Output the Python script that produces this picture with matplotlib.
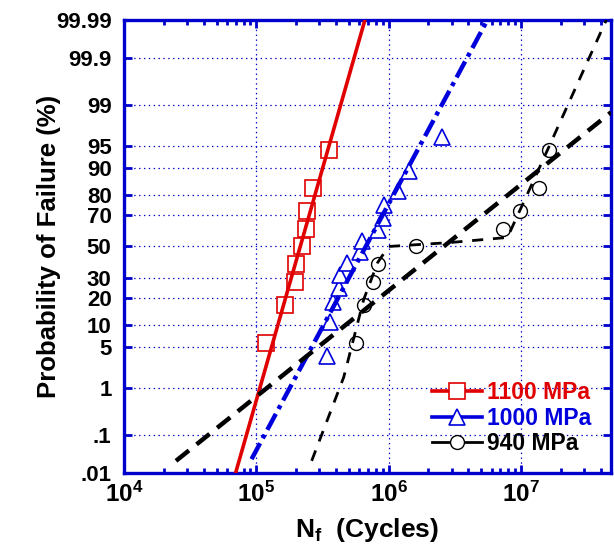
from statistics import NormalDist
import numpy as np
import matplotlib
matplotlib.use("Agg")
import matplotlib.pyplot as plt
from matplotlib.lines import Line2D
from matplotlib.ticker import FixedLocator, NullLocator, LogLocator

plt.rcParams['font.family'] = ['Liberation Sans', 'DejaVu Sans']
plt.rcParams['font.weight'] = 'bold'
plt.rcParams['mathtext.fontset'] = 'custom'
plt.rcParams['mathtext.rm'] = 'Liberation Sans:bold'
plt.rcParams['mathtext.it'] = 'Liberation Sans:bold'
plt.rcParams['mathtext.bf'] = 'Liberation Sans:bold'
plt.rcParams['mathtext.default'] = 'rm'
plt.rcParams['lines.scale_dashes'] = False

# --- data (cycles, failure probability in %) ---
p_1100 = [5.6, 16.7, 27.8, 38.9, 50.0, 61.1, 72.2, 83.3, 94.4]
n_1100 = [1.186e5, 1.661e5, 1.963e5, 2.011e5, 2.232e5, 2.376e5, 2.405e5, 2.684e5, 3.543e5]

p_1000 = [3.6, 10.7, 17.9, 25.0, 32.1, 39.3, 46.4, 53.6, 60.7, 67.9, 75.0, 82.1, 89.3, 96.4]
n_1000 = [3.405e5, 3.605e5, 3.80e5, 4.216e5, 4.29e5, 4.88e5, 6.07e5, 6.33e5,
          8.30e5, 9.12e5, 9.17e5, 1.184e6, 1.423e6, 2.543e6]

p_940 = [5.6, 16.7, 27.8, 38.9, 50.0, 61.1, 72.2, 83.3, 94.4]
n_940 = [5.636e5, 6.51e5, 7.66e5, 8.36e5, 1.599e6, 7.29e6, 9.91e6, 1.363e7, 1.621e7]

# fitted lines
fit_1100_n = [6.97e4, 6.62e5]
fit_1100_p = [0.01, 99.99]
fit_1000_n = [9.2e4, 5.58e6]
fit_1000_p = [0.024, 99.99]
fit_940_n = [2.47e4, 4.8e7]
fit_940_p = [0.0216, 98.62]
bimodal_940_n = [2.62e5, 4.58e5, 6.48e5, 8.26e5, 1.0e6, 2.94e6, 7.91e6, 1.33e7, 4.42e7]
bimodal_940_p = [0.0216, 1.6, 19.2, 39.6, 50.0, 52.6, 55.9, 88.8, 99.99]

prob_ticks = [0.01, 0.1, 1, 5, 10, 20, 30, 50, 70, 80, 90, 95, 99, 99.9, 99.99]
prob_labels = ['.01', '.1', '1', '5', '10', '20', '30', '50', '70', '80', '90',
               '95', '99', '99.9', '99.99']
decades = [1e4, 1e5, 1e6, 1e7]
decade_labels = [r'$10^{4}$', r'$10^{5}$', r'$10^{6}$', r'$10^{7}$']

_nd = NormalDist()


def _safe_inv(p):
    if not np.isfinite(p):
        return np.nan
    return _nd.inv_cdf(min(max(p, 1e-12), 1 - 1e-12))


def prob_forward(p):
    p = np.asarray(p, dtype=float) / 100.0
    return np.vectorize(_safe_inv, otypes=[float])(p)


def prob_inverse(z):
    z = np.asarray(z, dtype=float)
    return np.vectorize(lambda v: _nd.cdf(v) if np.isfinite(v) else np.nan,
                        otypes=[float])(z) * 100.0


RED = '#e00000'
BLUE = '#0000dd'
AXBLUE = '#0000cc'

fig = plt.figure(figsize=(6.14, 5.46), dpi=100)
ax = fig.add_axes([0.2020, 0.1337, 0.7932, 0.8297])
ax.set_xscale('log')
ax.set_yscale('function', functions=(prob_forward, prob_inverse))
ax.set_xlim(1e4, 4.8e7)
ax.set_ylim(0.01, 99.99)

# markers first, lines over them
ax.plot(n_1100, p_1100, ls='none', marker='s', ms=11.5, mfc='white',
        mec=RED, mew=1.2, zorder=3)
ax.plot(n_1000, p_1000, ls='none', marker='^', ms=11, mfc='white',
        mec=BLUE, mew=1.2, zorder=3)
ax.plot(n_940, p_940, ls='none', marker='o', ms=10, mfc='white',
        mec='black', mew=1.0, zorder=3)

ax.plot(fit_1100_n, fit_1100_p, color=RED, lw=2.6, zorder=4)
ax.plot(fit_1000_n, fit_1000_p, color=BLUE, lw=3.2, ls=(0, (13, 4, 3, 4)), zorder=4)
ax.plot(fit_940_n, fit_940_p, color='black', lw=3.2, ls=(0, (12, 7)), zorder=4)
ax.plot(bimodal_940_n, bimodal_940_p, color='black', lw=2.0, ls=(0, (8, 7)), zorder=4)

# axes styling
ax.yaxis.set_major_locator(FixedLocator(prob_ticks))
ax.set_yticklabels(prob_labels)
ax.yaxis.set_minor_locator(NullLocator())
ax.xaxis.set_major_locator(FixedLocator(decades))
ax.set_xticklabels(decade_labels)
ax.xaxis.set_minor_locator(LogLocator(base=10, subs=np.arange(2, 10), numticks=20))

for sp in ax.spines.values():
    sp.set_color(AXBLUE)
    sp.set_linewidth(2.4)

ax.tick_params(which='both', direction='in', top=True, right=True,
               color=AXBLUE, width=2.0)
ax.tick_params(which='major', length=5.5)
ax.tick_params(which='minor', length=3.5)
ax.tick_params(axis='y', which='major', labelsize=16, pad=9)
ax.tick_params(axis='x', which='major', labelsize=17.5, pad=6)

ax.grid(True, which='major', color=AXBLUE, ls=(0, (1, 2.5)), lw=0.9)

ax.set_ylabel('Probability of Failure (%)', fontsize=18.5, fontweight='bold')
ax.yaxis.set_label_coords(-0.13, 0.5)
ax.set_xlabel(r'N$_{f}$  (Cycles)', fontsize=19, fontweight='bold')
ax.xaxis.set_label_coords(0.5, -0.095)

handles = [
    Line2D([], [], color=RED, lw=2.6, marker='s', ms=11.5, mfc='white', mec=RED, mew=1.2),
    Line2D([], [], color=BLUE, lw=2.6, marker='^', ms=11, mfc='white', mec=BLUE, mew=1.2),
    Line2D([], [], color='black', lw=2.0, marker='o', ms=10, mfc='white', mec='black', mew=1.0),
]
leg = ax.legend(handles, ['1100 MPa', '1000 MPa', '940 MPa'], loc='upper left',
                bbox_to_anchor=(432 / 614, 1 - 381 / 546), bbox_transform=fig.transFigure,
                frameon=False, fontsize=16.5, handlelength=2.2, handletextpad=0.2,
                labelspacing=0.12, borderpad=0, borderaxespad=0)
for txt, c in zip(leg.get_texts(), [RED, BLUE, 'black']):
    txt.set_color(c)
    txt.set_fontweight('bold')

fig.savefig('out.png', dpi=100)
